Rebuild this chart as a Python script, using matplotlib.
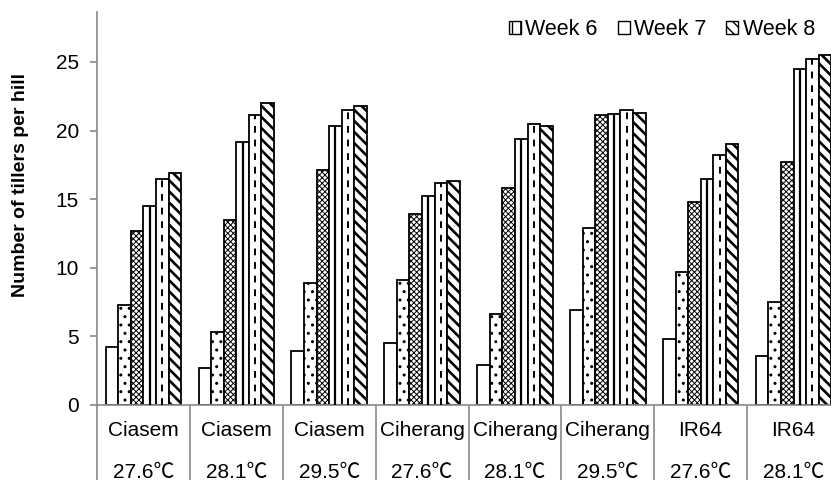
import matplotlib
matplotlib.use('Agg')
import matplotlib.pyplot as plt
import numpy as np
from matplotlib.patches import Patch

# ---- data ----
varieties = ['Ciasem', 'Ciasem', 'Ciasem', 'Ciherang', 'Ciherang', 'Ciherang', 'IR64', 'IR64']
temps = ['27.6℃', '28.1℃', '29.5℃', '27.6℃', '28.1℃', '29.5℃', '27.6℃', '28.1℃']
week3 = [4.2, 2.7, 3.9, 4.5, 2.9, 6.9, 4.8, 3.6]
week4 = [7.3, 5.3, 8.9, 9.1, 6.6, 12.9, 9.7, 7.5]
week5 = [12.7, 13.5, 17.1, 13.9, 15.8, 21.1, 14.8, 17.7]
week6 = [14.5, 19.2, 20.3, 15.2, 19.4, 21.2, 16.5, 24.5]
week7 = [16.5, 21.1, 21.5, 16.2, 20.5, 21.5, 18.2, 25.2]
week8 = [16.9, 22.0, 21.8, 16.3, 20.3, 21.3, 19.0, 25.5]
yticks = [0, 5, 10, 15, 20, 25]
legend_labels = ['Week 6', 'Week 7', 'Week 8']

FONT = ['Liberation Sans', 'Noto Sans CJK SC', 'DejaVu Sans']
plt.rcParams['font.family'] = FONT
GRAY = '#898989'

fig = plt.figure(figsize=(8.31, 4.8), dpi=100)
ax = fig.add_axes([97/831, 75/480, 743/831, 393/480])
ax.set_xlim(0, 8)
ax.set_ylim(0, 28.64)

n = len(varieties)
centers = np.arange(n) + 0.5
bw = 0.1355
series = [week3, week4, week5, week6, week7, week8]
hatches = ['', '..', 'xxxxxx', '', '', '\\\\\\']
hlw = [1.0, 1.0, 0.7, 1.0, 1.0, 1.9]
for i, (vals, h) in enumerate(zip(series, hatches)):
    xs = centers + (i - 2.5) * bw
    with plt.rc_context({'hatch.linewidth': hlw[i]}):
        bars = ax.bar(xs, vals, width=bw, facecolor='white', edgecolor='black',
                      linewidth=1.3, hatch=h, zorder=2)
        for b in bars:
            if hasattr(b, 'set_hatch_linewidth'):
                b.set_hatch_linewidth(hlw[i])
    if i == 3:
        ax.vlines(xs, 0, vals, colors='black', linewidth=1.6, zorder=3)
    if i == 4:
        ax.vlines(xs, 0, vals, colors='black', linewidth=1.4,
                  linestyles=(0, (3.5, 3.5)), zorder=3)

# spines
for s in ['top', 'right']:
    ax.spines[s].set_visible(False)
for s in ['left', 'bottom']:
    ax.spines[s].set_color(GRAY)
    ax.spines[s].set_linewidth(1.2)

# y axis
ax.set_yticks(yticks)
ax.set_yticklabels([str(t) for t in yticks])
ax.tick_params(axis='y', direction='out', length=5, width=1.2, color=GRAY,
               labelsize=15, pad=8, labelcolor='black')

# x axis: boundaries as long ticks
ax.set_xticks(np.arange(n + 1))
ax.set_xticklabels([''] * (n + 1))
ax.tick_params(axis='x', direction='out', length=54, width=1.2, color=GRAY)
for c, v, t in zip(centers, varieties, temps):
    ax.text(c, -25/393, v, transform=ax.get_xaxis_transform(), ha='center',
            va='center', fontsize=15, clip_on=False)
    ax.text(c, -67/393, t, transform=ax.get_xaxis_transform(), ha='center',
            va='center', fontsize=15, clip_on=False)

ax.set_ylabel('Number of tillers per hill', fontsize=14, fontweight='bold',
              va='center')
ax.yaxis.set_label_coords(-76/743, (405 - 185) / 393)

handles = [Patch(facecolor='white', edgecolor='black', hatch='||', linewidth=1.0),
           Patch(facecolor='white', edgecolor='black', hatch='', linewidth=1.0),
           Patch(facecolor='white', edgecolor='black', hatch='\\\\\\', linewidth=1.0)]
leg = fig.legend(handles, legend_labels, loc='center right',
                 bbox_to_anchor=(815/831, 1 - 29.5/480), ncol=3, frameon=False,
                 fontsize=15.5, handlelength=0.56, handleheight=0.56,
                 handletextpad=0.2, columnspacing=0.93, borderaxespad=0,
                 borderpad=0)

fig.savefig('out.png', dpi=100)
